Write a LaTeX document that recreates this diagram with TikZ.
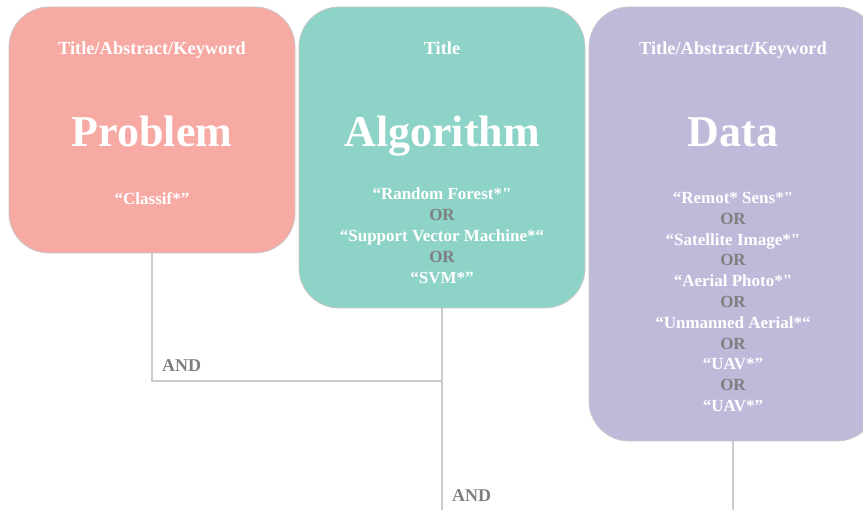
\documentclass[tikz,border=0pt]{standalone}
\usepackage{fontspec}
\setmainfont{Liberation Serif}[Ligatures = TeXOff]
\usetikzlibrary{positioning}

\definecolor{problemfill}{RGB}{247, 169, 164}
\definecolor{algofill}{RGB}{142, 211, 199}
\definecolor{datafill}{RGB}{190, 186, 218}
\definecolor{boxedge}{RGB}{200, 200, 200}
\definecolor{linkgray}{RGB}{204, 204, 204}
\definecolor{opgray}{RGB}{127, 127, 127}

\begin{document}
\begin{tikzpicture}[x = 1pt, y = -1pt,
	box/.style = {draw = boxedge, line width = 0.8pt, rounded corners = 40pt, inner sep = 0pt, minimum width = 286pt},
	head/.style = {white, anchor = base, inner sep = 0pt, font = \bfseries\fontsize{18.4}{20}\selectfont},
	topic/.style = {white, anchor = base, inner sep = 0pt, font = \bfseries\fontsize{44}{48}\selectfont},
	terms/.style = {white, anchor = north, inner sep = 0pt, align = center, font = \bfseries\fontsize{17}{20.8}\selectfont},
	op/.style = {opgray, anchor = base west, inner sep = 0pt, font = \bfseries\fontsize{18}{20}\selectfont},
	link/.style = {draw = linkgray, line width = 1.4pt}]

	\clip (0, 0) rectangle (863, 510);

	% Boxes

	\node [box, fill = problemfill, minimum height = 246pt] (prob) at (152, 130) {};
	\node [box, fill = algofill, minimum height = 301pt] (algo) at (442, 157.5) {};
	\node [box, fill = datafill, minimum width = 288pt, minimum height = 434pt] (data) at (733, 224) {};

	% Problem

	\node [head] (probfield) at (152, 55) {Title/Abstract/Keyword};
	\node [topic] (probname) at (152, 147) {Problem};
	\node [terms] (probterms) at (152, 192) {“Classif*”};

	% Algorithm

	\node [head] (algofield) at (442, 55) {Title};
	\node [topic] (algoname) at (442, 147) {Algorithm};
	\node [terms] (algoterms) at (442, 188) {“Random Forest*"\\ \textcolor{opgray}{OR}\\ “Support Vector Machine*“\\ \textcolor{opgray}{OR}\\ “SVM*”};

	% Data

	\node [head] (datafield) at (733, 55) {Title/Abstract/Keyword};
	\node [topic] (dataname) at (733, 147) {Data};
	\node [terms] (dataterms) at (733, 192) {“Remot* Sens*"\\ \textcolor{opgray}{OR}\\ “Satellite Image*"\\ \textcolor{opgray}{OR}\\ “Aerial Photo*"\\ \textcolor{opgray}{OR}\\ “Unmanned Aerial*“\\ \textcolor{opgray}{OR}\\ “UAV*”\\ \textcolor{opgray}{OR}\\ “UAV*”};

	% Connectors + operators

	\coordinate (join) at (442, 381);
	\coordinate (algoend) at (442, 510);
	\coordinate (dataend) at (733, 510);

	\draw [link] (prob.south) |- (join);
	\draw [link] (algo.south) -- (algoend);
	\draw [link] (data.south) -- (dataend);

	\node [op] (and1) at (162, 372) {AND};
	\node [op] (and2) at (452, 502) {AND};

\end{tikzpicture}
\end{document}
